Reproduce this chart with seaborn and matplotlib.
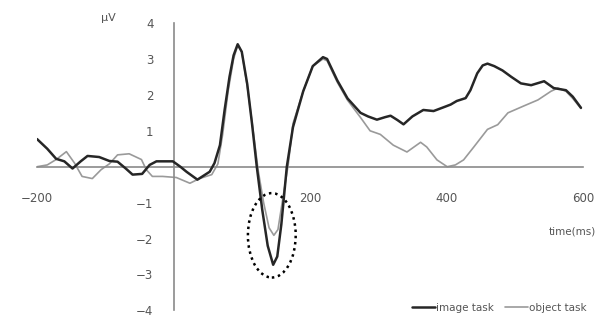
import matplotlib
matplotlib.use("Agg")
import matplotlib.pyplot as plt
from matplotlib.patches import Ellipse
import seaborn as sns
import pandas as pd

# ERP waveform (time in ms, amplitude in microvolts)
image_t = [-200, -185, -172, -160, -148, -136, -126, -109, -94, -82, -70, -60, -46, -35, -25, -1,
           10, 19, 35, 53, 60, 68, 75, 82, 88, 94, 100, 108, 115, 122, 130, 138, 146, 152, 158,
           166, 175, 190, 204, 219, 225, 240, 255, 274, 285, 298, 310, 318, 328, 337, 350, 366,
           381, 395, 406, 415, 428, 435, 445, 453, 460, 470, 482, 495, 509, 524, 543, 557, 575,
           585, 597]
image_v = [0.77, 0.5, 0.22, 0.15, -0.05, 0.15, 0.3, 0.27, 0.16, 0.14, -0.05, -0.22, -0.2, 0.05,
           0.15, 0.15, 0.0, -0.14, -0.36, -0.14, 0.1, 0.6, 1.6, 2.5, 3.1, 3.41, 3.2, 2.3, 1.2,
           0.0, -1.2, -2.2, -2.73, -2.5, -1.6, 0.0, 1.1, 2.1, 2.8, 3.05, 3.0, 2.4, 1.9, 1.5, 1.4,
           1.31, 1.38, 1.42, 1.3, 1.18, 1.4, 1.58, 1.55, 1.65, 1.73, 1.83, 1.91, 2.13, 2.6, 2.82,
           2.87, 2.8, 2.68, 2.5, 2.32, 2.27, 2.38, 2.19, 2.13, 1.95, 1.64]

object_t = [-200, -185, -172, -157, -145, -134, -119, -106, -94, -82, -65, -47, -40, -31, -16, 4,
            24, 38, 56, 65, 72, 80, 88, 94, 100, 108, 116, 124, 132, 140, 147, 153, 160, 168,
            175, 190, 204, 219, 225, 240, 255, 274, 288, 303, 322, 342, 362, 371, 386, 401, 413,
            425, 440, 460, 475, 490, 513, 534, 553, 563, 575, 585, 597]
object_v = [0.0, 0.05, 0.2, 0.42, 0.1, -0.27, -0.33, -0.08, 0.08, 0.33, 0.36, 0.2, -0.08, -0.27,
            -0.27, -0.3, -0.46, -0.33, -0.22, 0.08, 0.9, 2.1, 3.0, 3.38, 3.2, 2.25, 1.1, -0.1,
            -1.0, -1.7, -1.91, -1.75, -0.9, 0.05, 1.2, 2.1, 2.8, 3.0, 2.95, 2.35, 1.85, 1.37, 1.0,
            0.9, 0.6, 0.41, 0.68, 0.55, 0.19, 0.0, 0.05, 0.19, 0.55, 1.04, 1.17, 1.5, 1.69, 1.86,
            2.1, 2.19, 2.1, 1.9, 1.62]

x_ticks = [-200, 200, 400, 600]
y_ticks = [-4, -3, -2, -1, 1, 2, 3, 4]
labels = ["image task", "object task"]

df = pd.concat([
    pd.DataFrame({"time": image_t, "uV": image_v, "task": labels[0]}),
    pd.DataFrame({"time": object_t, "uV": object_v, "task": labels[1]}),
])

sns.set_style("white")
plt.rcParams["font.family"] = ["DejaVu Sans"]
txt = "#555555"
axis_col = "#8a8a8a"

fig = plt.figure(figsize=(6.07, 3.2), dpi=100)
ax = fig.add_axes([0.061, 0.03, 0.8995, 0.898])

ax = sns.lineplot(data=df, x="time", y="uV", hue="task", hue_order=labels,
                  palette=["#262626", "#9a9a9a"], size="task", sizes=[1.8, 1.2],
                  size_order=labels, ax=ax, legend=False)
ax.lines[0].set_zorder(4)

# dotted ellipse around the N170 dip
ax.add_patch(Ellipse((144, -1.91), 70, 2.35, fill=False, linestyle=(0, (1, 1.5)),
                     linewidth=1.8, edgecolor="black", zorder=5))

ax.set_xlim(-200, 600)
ax.set_ylim(-4, 4)
for s in ["top", "right"]:
    ax.spines[s].set_visible(False)
ax.spines["left"].set_position(("data", 0))
ax.spines["bottom"].set_position(("data", 0))
for s in ["left", "bottom"]:
    ax.spines[s].set_color(axis_col)
    ax.spines[s].set_linewidth(1.2)

ax.set_xticks(x_ticks)
ax.set_yticks(y_ticks)
ax.tick_params(axis="both", direction="inout", length=9, width=1.2, color=axis_col,
               labelcolor=txt, labelsize=8.5)
ax.tick_params(axis="x", pad=14)
ax.tick_params(axis="y", pad=10)
ax.set_xticklabels(["\u2212200", "200", "400", "600"])
ax.set_yticklabels(["\u22124", "\u22123", "\u22122", "\u22121", "1", "2", "3", "4"])
ax.set_xlabel("")
ax.set_ylabel("")

fig.text(108 / 607, 1 - 18 / 320, "\u03bcV", ha="center", va="center", color=txt, fontsize=8)
fig.text(596 / 607, 1 - 232 / 320, "time(ms)", ha="right", va="center", color=txt, fontsize=7.5)

handles = [plt.Line2D([], [], color="#262626", lw=1.8),
           plt.Line2D([], [], color="#9a9a9a", lw=1.2)]
fig.legend(handles, labels, loc="center right", bbox_to_anchor=(592 / 607, 1 - 308 / 320),
           ncol=2, frameon=False, fontsize=7.5, labelcolor=txt, handlelength=2.2,
           handletextpad=0.15, columnspacing=1.0, borderpad=0)

fig.savefig("out.png", dpi=100)
